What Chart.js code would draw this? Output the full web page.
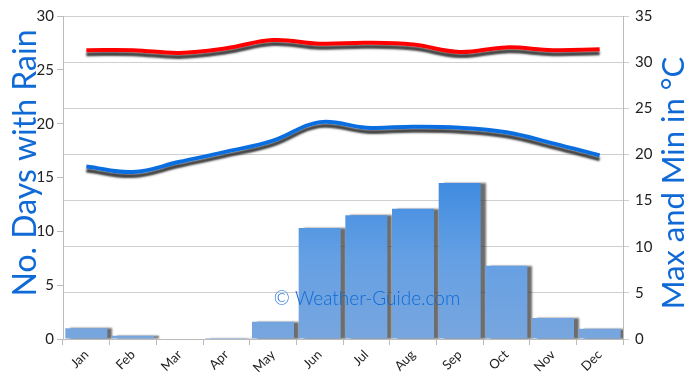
<!DOCTYPE html>
<html><head><meta charset="utf-8">
<script src="https://cdn.jsdelivr.net/npm/chart.js@4"></script>
<style>html,body{margin:0;padding:0;background:#fff}#wrap{width:690px;height:383px;position:relative}</style>
</head><body><div id="wrap"><canvas id="c" width="690" height="383"></canvas></div>
<script>
const months = ["Jan","Feb","Mar","Apr","May","Jun","Jul","Aug","Sep","Oct","Nov","Dec"];
const rainDays = [1.0, 0.3, 0, 0.1, 1.6, 10.3, 11.5, 12.1, 14.5, 6.8, 1.95, 0.95];
const maxTemp = [31.3, 31.3, 31.0, 31.5, 32.4, 32.0, 32.1, 31.9, 31.1, 31.6, 31.3, 31.4];
const minTemp = [18.7, 18.1, 19.2, 20.3, 21.5, 23.5, 22.9, 23.0, 22.9, 22.4, 21.2, 19.9];
const rainTicks = [0, 5, 10, 15, 20, 25, 30];
const tempTicks = [0, 5, 10, 15, 20, 25, 30, 35];
const leftTitle = 'No. Days with Rain';
const rightTitle = 'Max and Min in \u00B0C';
const watermarkText = '\u00A9 Weather-Guide.com';

const shadowPlugin = {
  id: 'shadow',
  beforeDatasetDraw(chart, args) {
    const ctx = chart.ctx;
    ctx.save();
    if (args.meta.type === 'bar') {
      ctx.shadowColor = 'rgba(60,60,60,0.75)';
      ctx.shadowOffsetX = 5; ctx.shadowOffsetY = 0; ctx.shadowBlur = 2;
    } else {
      ctx.shadowColor = 'rgba(30,30,30,0.85)';
      ctx.shadowOffsetX = 0; ctx.shadowOffsetY = 4; ctx.shadowBlur = 2;
    }
  },
  afterDatasetDraw(chart) { chart.ctx.restore(); }
};
const texts = {
  id: 'texts',
  afterDatasetsDraw(chart) {
    const ctx = chart.ctx, a = chart.chartArea;
    ctx.save();
    ctx.font = '300 19px "Comic Sans MS", Lato, sans-serif';
    ctx.fillStyle = '#0f6ad6';
    ctx.textAlign = 'center'; ctx.textBaseline = 'middle';
    ctx.fillText(watermarkText, (a.left + a.right) / 2 + 24, 299);
    ctx.font = '400 32px "Comic Sans MS", Lato, sans-serif';
    ctx.save();
    ctx.translate(26, 163);
    ctx.rotate(-Math.PI / 2);
    ctx.fillText(leftTitle, 0, 0);
    ctx.restore();
    ctx.font = '400 31px "Comic Sans MS", Lato, sans-serif';
    ctx.save();
    ctx.translate(674, 183);
    ctx.rotate(-Math.PI / 2);
    ctx.fillText(rightTitle, 0, 0);
    ctx.restore();
    ctx.restore();
  }
};

const ctx = document.getElementById('c').getContext('2d');
function barFill(context) {
  const ch = context.chart; const a = ch.chartArea;
  if (!a) return '#5a9be0';
  const g = ch.ctx.createLinearGradient(0, 180, 0, a.bottom);
  g.addColorStop(0, '#3f8be0');
  g.addColorStop(0.5, '#65a0e4');
  g.addColorStop(1, '#78a6de');
  return g;
}
new Chart(ctx, {
  data: {
    labels: months,
    datasets: [
      {type:'line', data: maxTemp, yAxisID:'y1', borderColor:'#ff0000', borderWidth:4, pointRadius:0, tension:0.4, fill:false, order:1},
      {type:'line', data: minTemp, yAxisID:'y1', borderColor:'#0a6ee0', borderWidth:4, pointRadius:0, tension:0.4, fill:false, order:1},
      {type:'bar', data: rainDays, yAxisID:'y', backgroundColor: barFill, borderWidth:0, barPercentage:0.9, categoryPercentage:1.0, order:2}
    ]
  },
  options: {
    responsive:false, animation:false,
    layout:{padding:{top:16, bottom:0, left:0, right:0}},
    plugins:{legend:{display:false}, tooltip:{enabled:false}},
    scales:{
      x:{
        afterFit(s){ s.height = 44; },
        grid:{offset:true, drawOnChartArea:false, color:'#bbb', tickLength:6},
        border:{color:'#bbb'},
        ticks:{color:'#222', font:{family:'Lato, sans-serif', size:13}, maxRotation:45, minRotation:45, padding:2}
      },
      y:{
        position:'left', min:0, max:30,
        afterBuildTicks(s){ s.ticks = rainTicks.map(v=>({value:v})); },
        afterFit(s){ s.width = 63; },
        grid:{drawOnChartArea:false, color:'#bbb', tickLength:6},
        border:{color:'#bbb'},
        ticks:{color:'#222', font:{family:'Lato, sans-serif', size:15}, padding:3}
      },
      y1:{
        position:'right', min:0, max:35,
        afterBuildTicks(s){ s.ticks = tempTicks.map(v=>({value:v})); },
        afterFit(s){ s.width = 67; },
        grid:{drawOnChartArea:true, color:'#cfcfcf', tickLength:6},
        border:{color:'#bbb'},
        ticks:{color:'#222', font:{family:'Lato, sans-serif', size:15}, padding:6}
      }
    }
  },
  plugins:[shadowPlugin, texts]
});
</script></body></html>
